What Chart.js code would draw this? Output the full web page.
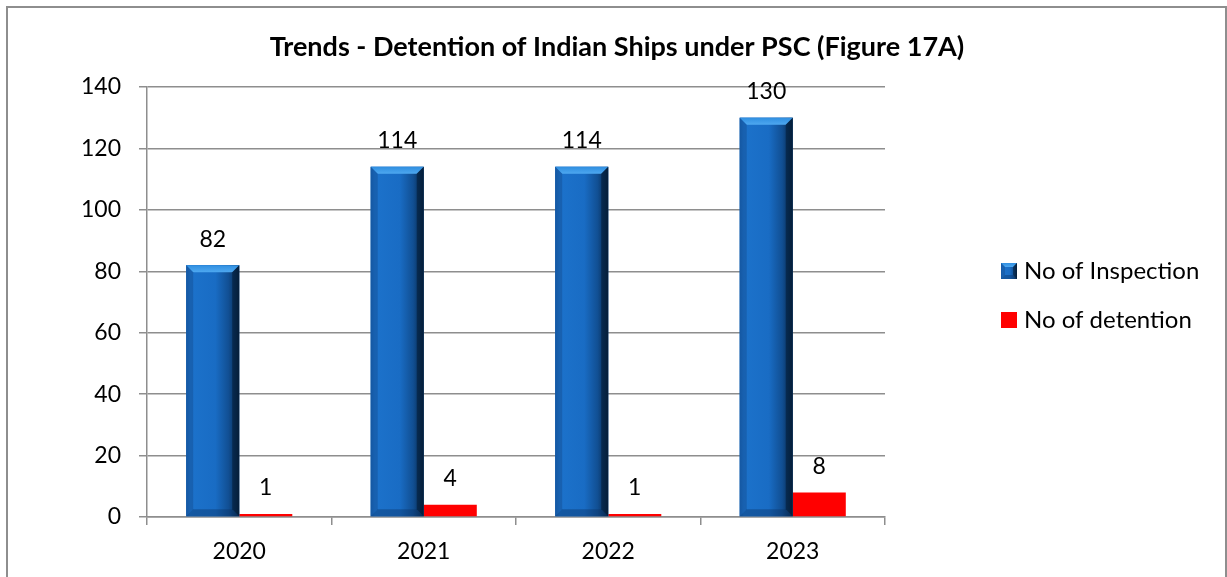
<!DOCTYPE html>
<html>
<head>
<meta charset="utf-8">
<script src="https://cdn.jsdelivr.net/npm/chart.js@4.4.1/dist/chart.umd.min.js"></script>
<style>
html,body{margin:0;padding:0;background:#fff;overflow:hidden;}
#wrap{position:relative;width:1227px;height:577px;}
#frame{position:absolute;left:6px;top:6px;width:1221px;height:620px;border:2px solid #8e8e8e;box-sizing:border-box;pointer-events:none;}
canvas{position:absolute;left:0;top:0;}
</style>
</head>
<body>
<div id="wrap">
<canvas id="c" width="1227" height="577"></canvas>
<div id="frame"></div>
</div>
<script>
const titleText = 'Trends - Detention of Indian Ships under PSC (Figure 17A)';
const categories = ['2020', '2021', '2022', '2023'];
const inspections = [82, 114, 114, 130];
const detentions = [1, 4, 1, 8];
const seriesNames = ['No of Inspection', 'No of detention'];
const yTicks = [0, 20, 40, 60, 80, 100, 120, 140];

const FONT = 'Lato, "Open Sans", "DejaVu Sans", sans-serif';
const BLUE = '#1a6ec6';
const RED = '#ff0000';
const GRID = '#8e8e8e';

function bevelBar(ctx, x0, x1, yTop, yBot) {
  const w = x1 - x0;
  const g = ctx.createLinearGradient(x0, 0, x1, 0);
  g.addColorStop(0, '#1660b0');
  g.addColorStop(0.08, '#1c72cb');
  g.addColorStop(0.55, '#196cc4');
  g.addColorStop(0.8, '#114f93');
  g.addColorStop(1, '#062444');
  ctx.fillStyle = g;
  ctx.fillRect(x0, yTop, w, yBot - yTop);
  const b = Math.min(7, (yBot - yTop) / 3, w / 4);
  const gt = ctx.createLinearGradient(0, yTop, 0, yTop + b);
  gt.addColorStop(0, '#2f8ee0');
  gt.addColorStop(1, '#4ea8f0');
  ctx.fillStyle = gt;
  ctx.beginPath();
  ctx.moveTo(x0, yTop); ctx.lineTo(x1, yTop); ctx.lineTo(x1 - b, yTop + b); ctx.lineTo(x0 + b, yTop + b); ctx.closePath();
  ctx.fill();
  ctx.fillStyle = 'rgba(3,25,50,0.55)';
  ctx.beginPath();
  ctx.moveTo(x1, yTop); ctx.lineTo(x1, yBot); ctx.lineTo(x1 - b, yBot - b); ctx.lineTo(x1 - b, yTop + b); ctx.closePath();
  ctx.fill();
  ctx.fillStyle = 'rgba(20,80,150,0.5)';
  ctx.beginPath();
  ctx.moveTo(x0, yTop); ctx.lineTo(x0 + b, yTop + b); ctx.lineTo(x0 + b, yBot - b); ctx.lineTo(x0, yBot); ctx.closePath();
  ctx.fill();
  ctx.fillStyle = 'rgba(10,50,100,0.4)';
  ctx.beginPath();
  ctx.moveTo(x0, yBot); ctx.lineTo(x1, yBot); ctx.lineTo(x1 - b, yBot - b); ctx.lineTo(x0 + b, yBot - b); ctx.closePath();
  ctx.fill();
}

const overlay = {
  id: 'overlay',
  afterDatasetsDraw(chart) {
    const ctx = chart.ctx;
    ctx.save();
    const m0 = chart.getDatasetMeta(0);
    m0.data.forEach(bar => {
      const x0 = bar.x - bar.width / 2, x1 = bar.x + bar.width / 2;
      bevelBar(ctx, x0, x1, bar.y, bar.base);
    });
    ctx.fillStyle = '#000';
    ctx.font = '23px ' + FONT;
    ctx.textAlign = 'center';
    ctx.textBaseline = 'middle';
    chart.data.datasets.forEach((ds, i) => {
      chart.getDatasetMeta(i).data.forEach((bar, j) => {
        ctx.fillText(String(ds.data[j]), bar.x, bar.y - 26);
      });
    });
    // title
    ctx.font = 'bold 27px ' + FONT;
    ctx.fillText(titleText, 617, 47);
    // legend
    ctx.font = '24px ' + FONT;
    const lx = 1001, items = [271, 320];
    chart.data.datasets.forEach((ds, i) => {
      const cy = items[i];
      if (i === 0) bevelBar(ctx, lx, lx + 16, cy - 8, cy + 8);
      else { ctx.fillStyle = ds.backgroundColor; ctx.fillRect(lx, cy - 8, 16, 16); }
      ctx.fillStyle = '#000';
      ctx.textAlign = 'left';
      ctx.fillText(ds.label, lx + 23, cy);
    });
    ctx.restore();
  }
};

new Chart(document.getElementById('c'), {
  type: 'bar',
  data: {
    labels: categories,
    datasets: [
      { label: seriesNames[0], data: inspections, backgroundColor: BLUE, categoryPercentage: 0.575, barPercentage: 1 },
      { label: seriesNames[1], data: detentions, backgroundColor: RED, categoryPercentage: 0.575, barPercentage: 1 }
    ]
  },
  options: {
    responsive: false,
    animation: false,
    events: [],
    layout: { padding: { left: 0, right: 342, top: 87, bottom: 0 } },
    plugins: {
      legend: { display: false },
      tooltip: { enabled: false },
      title: { display: false }
    },
    scales: {
      x: {
        grid: { offset: true, drawOnChartArea: false, color: GRID, lineWidth: 1.5, tickLength: 8 },
        border: { display: true, color: GRID, width: 1.5 },
        ticks: { color: '#000', font: { family: FONT, size: 23 }, padding: 13 },
        afterFit(s) { s.height = 60; }
      },
      y: {
        min: 0, max: 140,
        afterBuildTicks(s) { s.ticks = yTicks.map(v => ({ value: v })); },
        grid: { color: GRID, lineWidth: 1.5, tickLength: 8 },
        border: { display: true, color: GRID, width: 1.5 },
        ticks: { color: '#000', font: { family: FONT, size: 23 }, padding: 18 },
        afterFit(s) { s.width = 147; }
      }
    }
  },
  plugins: [overlay]
});
</script>
</body>
</html>
